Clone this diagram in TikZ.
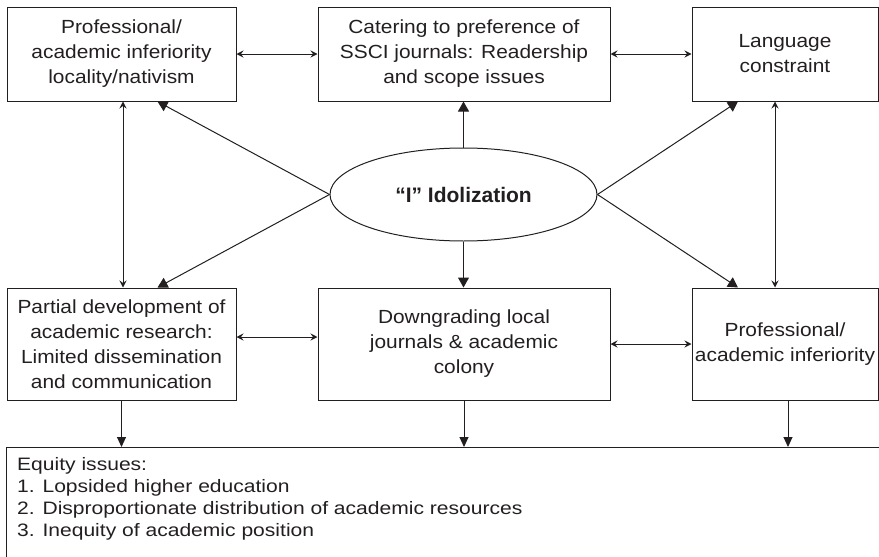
\documentclass[tikz,border=0pt]{standalone}
\usepackage{fontspec}
\setmainfont{Liberation Sans}
\newfontfamily\boxfont[FakeStretch=1.1]{Liberation Sans}
\newfontfamily\eqfont[FakeStretch=1.17]{Liberation Sans}
\usetikzlibrary{arrows.meta,shapes.geometric}
\definecolor{ink}{HTML}{231F20}
\begin{document}
\begin{tikzpicture}[x=1pt,y=-1pt,
  every node/.style={text=ink},
  box/.style={draw=ink,line width=1pt,rectangle,inner sep=0pt,align=center,
    font=\boxfont\fontsize{19}{25}\selectfont},
  small/.style={draw=ink,line width=1pt,{Stealth[length=7pt,width=7pt,inset=2.5pt]}-{Stealth[length=7pt,width=7pt,inset=2.5pt]}},
  big/.style={draw=ink,line width=1pt,-{Triangle[length=10pt,width=11pt]}},
  down/.style={draw=ink,line width=1pt,-{Triangle[length=10pt,width=9pt]}}]
\useasboundingbox (0,0) rectangle (879,557);
% top row
\node[box,minimum width=229pt,minimum height=94pt] (tl) at (121.5,54) {Professional/\\academic inferiority\\locality/nativism};
\node[box,minimum width=292pt,minimum height=94pt] (tm) at (464,54) {Catering to preference of\\SSCI journals: Readership\\and scope issues};
\node[box,minimum width=186pt,minimum height=94pt] (tr) at (785,54) {Language\\constraint};
% bottom row
\node[box,minimum width=229pt,minimum height=112pt] (bl) at (121.5,344) {Partial development of\\academic research:\\Limited dissemination\\and communication};
\node[box,minimum width=292pt,minimum height=112pt] (bm) at (464,344) {Downgrading local\\journals \& academic\\colony};
\node[box,minimum width=186pt,minimum height=112pt] (br) at (785,344) {Professional/\\academic inferiority};
% centre ellipse
\node[draw=ink,line width=1pt,ellipse,minimum width=267pt,minimum height=93pt,inner sep=0pt,
  font=\fontsize{21}{25}\selectfont\bfseries] (el) at (463.5,194.5) {“I” Idolization};
% equity box
\node[draw=ink,line width=1pt,rectangle,anchor=north west,minimum width=890pt,minimum height=130pt,inner sep=0pt] (eq) at (6,447) {};
\node[anchor=base west,align=left,inner sep=0pt,font=\eqfont\fontsize{18}{21.7}\selectfont] (eqt) at (17,536)
  {Equity issues:\\1. Lopsided higher education\\2. Disproportionate distribution of academic resources\\3. Inequity of academic position};
% double arrows
\draw[small] (tl.east) -- (tm.west);
\draw[small] (tm.east) -- (tr.west);
\draw[small] ([yshift=7pt]bl.east) -- ([yshift=7pt]bl.east -| bm.west);
\draw[small] (bm.east) -- (br.west);
\draw[small] ([xshift=1.5pt]tl.south) -- ([xshift=1.5pt]bl.north);
\draw[small] ([xshift=-10pt]tr.south) -- ([xshift=-10pt]br.north);
% from ellipse
\draw[big] (el.north) -- (el.north |- tm.south);
\draw[big] (el.south) -- (el.south |- bm.north);
\draw[big] (el.west) -- ([xshift=36pt]tl.south);
\draw[big] (el.west) -- ([xshift=36pt]bl.north);
\draw[big] (el.east) -- ([xshift=-47pt]tr.south);
\draw[big] (el.east) -- ([xshift=-47pt]br.north);
% down to equity
\draw[down] (bl.south) -- (bl.south |- eq.north);
\draw[down] (bm.south) -- (bm.south |- eq.north);
\draw[down] ([xshift=3pt]br.south) -- ([xshift=3pt]br.south |- eq.north);
\end{tikzpicture}
\end{document}
